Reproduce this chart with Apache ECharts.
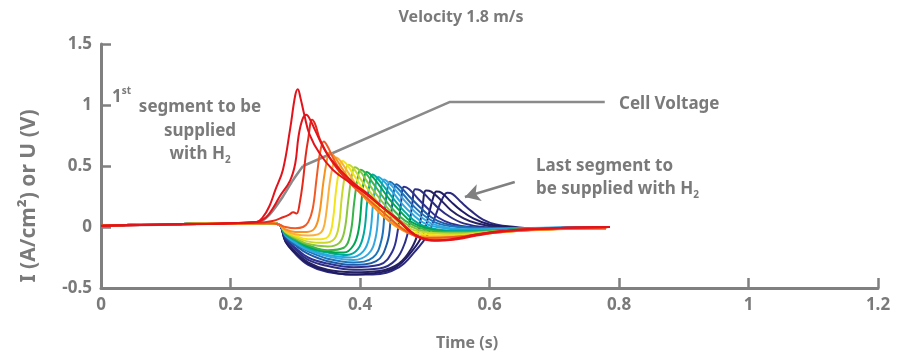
<!DOCTYPE html>
<html><head><meta charset="utf-8">
<script src="https://cdn.jsdelivr.net/npm/echarts@6/dist/echarts.min.js"></script>
<style>html,body{margin:0;padding:0;background:#fff}#c{width:902px;height:356px}</style>
</head><body><div id="c"></div>
<script>
const chartTitle = 'Velocity 1.8 m/s';
const xName = 'Time (s)';
const yName = 'I (A/cm²) or U (V)';

// Segment currents, first supplied (red) to last supplied (dark blue): [time, value]
const s01 = [[0,0.01],[0.15,0.025],[0.24,0.04],[0.25,0.08],[0.26,0.17],[0.269,0.3],[0.281,0.47],[0.292,0.8],[0.3,1.08],[0.304,1.13],[0.308,1.06],[0.314,0.92],[0.322,0.76],[0.338,0.6],[0.358,0.47],[0.385,0.36],[0.405,0.29],[0.43,0.18],[0.457,0.07],[0.475,-0.02],[0.49,-0.08],[0.51,-0.11],[0.54,-0.1],[0.575,-0.07],[0.62,-0.03],[0.7,-0.01],[0.786,0.0]];
const s02 = [[0,0.01],[0.15,0.025],[0.24,0.04],[0.255,0.08],[0.265,0.15],[0.276,0.25],[0.292,0.38],[0.3,0.52],[0.305,0.74],[0.311,0.88],[0.317,0.92],[0.323,0.88],[0.33,0.8],[0.349,0.6],[0.369,0.47],[0.39,0.36],[0.41,0.28],[0.435,0.16],[0.46,0.05],[0.478,-0.04],[0.495,-0.09],[0.515,-0.11],[0.545,-0.1],[0.58,-0.06],[0.63,-0.03],[0.7,-0.01],[0.786,0.0]];
const s03 = [[0,0.01],[0.15,0.025],[0.24,0.035],[0.265,0.05],[0.281,0.08],[0.29,0.1],[0.297,0.12],[0.302,0.11],[0.307,0.2],[0.312,0.38],[0.316,0.58],[0.32,0.72],[0.326,0.88],[0.331,0.84],[0.338,0.72],[0.354,0.56],[0.374,0.42],[0.395,0.33],[0.415,0.25],[0.44,0.14],[0.46,0.05],[0.48,-0.05],[0.5,-0.1],[0.52,-0.11],[0.55,-0.1],[0.58,-0.07],[0.63,-0.03],[0.7,-0.01],[0.786,0.0]];
const s04 = [[0,0.01],[0.26,0.03],[0.275,0.02],[0.285,0.0],[0.3,-0.01],[0.312,0.0],[0.32,0.04],[0.327,0.15],[0.333,0.4],[0.338,0.6],[0.344,0.70],[0.35,0.66],[0.36,0.55],[0.375,0.42],[0.39,0.33],[0.41,0.24],[0.44,0.1],[0.47,-0.03],[0.5,-0.09],[0.55,-0.08],[0.6,-0.05],[0.68,-0.02],[0.78,-0.01]];
const s05 = [[0,0.01],[0.26,0.03],[0.275,0.02],[0.285,-0.02],[0.3,-0.04],[0.318,-0.04],[0.33,-0.01],[0.337,0.1],[0.343,0.35],[0.348,0.52],[0.353,0.61],[0.36,0.58],[0.37,0.5],[0.385,0.38],[0.4,0.28],[0.42,0.17],[0.45,0.03],[0.48,-0.06],[0.51,-0.09],[0.55,-0.08],[0.6,-0.05],[0.68,-0.02],[0.78,-0.01]];
const s06 = [[0,0.01],[0.26,0.03],[0.275,0.02],[0.285,-0.03],[0.3,-0.06],[0.32,-0.07],[0.335,-0.06],[0.343,-0.02],[0.348,0.12],[0.353,0.35],[0.358,0.5],[0.363,0.57],[0.37,0.54],[0.38,0.46],[0.395,0.34],[0.41,0.24],[0.43,0.12],[0.46,-0.01],[0.49,-0.07],[0.52,-0.08],[0.57,-0.07],[0.62,-0.04],[0.7,-0.02],[0.78,-0.01]];
const s07 = [[0,0.01],[0.26,0.03],[0.275,0.02],[0.285,-0.03],[0.3,-0.07],[0.32,-0.1],[0.34,-0.1],[0.352,-0.07],[0.358,0.05],[0.363,0.3],[0.368,0.47],[0.373,0.54],[0.38,0.51],[0.39,0.43],[0.405,0.31],[0.42,0.21],[0.44,0.1],[0.47,-0.02],[0.5,-0.06],[0.54,-0.07],[0.6,-0.05],[0.68,-0.02],[0.78,-0.01]];
const s08 = [[0,0.01],[0.26,0.03],[0.275,0.02],[0.285,-0.04],[0.3,-0.08],[0.32,-0.12],[0.345,-0.13],[0.36,-0.1],[0.367,0.0],[0.372,0.25],[0.377,0.43],[0.382,0.51],[0.39,0.48],[0.4,0.4],[0.415,0.29],[0.43,0.19],[0.45,0.08],[0.48,-0.02],[0.51,-0.05],[0.55,-0.06],[0.6,-0.04],[0.68,-0.02],[0.78,-0.01]];
const s09 = [[0,0.01],[0.26,0.03],[0.275,0.02],[0.285,-0.04],[0.3,-0.09],[0.32,-0.14],[0.35,-0.16],[0.368,-0.13],[0.376,-0.03],[0.382,0.22],[0.387,0.41],[0.392,0.49],[0.4,0.46],[0.41,0.38],[0.425,0.27],[0.44,0.17],[0.46,0.06],[0.49,-0.02],[0.52,-0.05],[0.56,-0.05],[0.62,-0.03],[0.7,-0.01],[0.78,-0.01]];
const s10 = [[0,0.01],[0.26,0.03],[0.275,0.02],[0.285,-0.05],[0.3,-0.1],[0.32,-0.15],[0.35,-0.19],[0.375,-0.17],[0.385,-0.06],[0.391,0.2],[0.396,0.39],[0.401,0.47],[0.409,0.44],[0.42,0.36],[0.435,0.25],[0.45,0.15],[0.47,0.05],[0.5,-0.02],[0.53,-0.04],[0.57,-0.04],[0.63,-0.03],[0.7,-0.01],[0.78,-0.01]];
const s11 = [[0,0.01],[0.26,0.03],[0.275,0.02],[0.285,-0.05],[0.3,-0.1],[0.32,-0.16],[0.35,-0.2],[0.375,-0.21],[0.39,-0.15],[0.398,-0.02],[0.403,0.25],[0.406,0.38],[0.41,0.45],[0.418,0.42],[0.43,0.34],[0.445,0.23],[0.46,0.14],[0.48,0.04],[0.51,-0.02],[0.54,-0.04],[0.58,-0.04],[0.64,-0.02],[0.78,-0.01]];
const s12 = [[0,0.01],[0.26,0.03],[0.275,0.02],[0.285,-0.06],[0.3,-0.11],[0.32,-0.17],[0.35,-0.21],[0.38,-0.23],[0.397,-0.18],[0.406,-0.05],[0.411,0.2],[0.415,0.36],[0.419,0.43],[0.427,0.4],[0.44,0.31],[0.455,0.21],[0.47,0.12],[0.49,0.03],[0.52,-0.02],[0.55,-0.03],[0.6,-0.03],[0.66,-0.01],[0.78,-0.01]];
const s13 = [[0,0.01],[0.26,0.03],[0.275,0.02],[0.285,-0.06],[0.3,-0.12],[0.32,-0.18],[0.35,-0.23],[0.385,-0.25],[0.405,-0.2],[0.415,-0.07],[0.42,0.18],[0.424,0.34],[0.428,0.41],[0.436,0.38],[0.45,0.29],[0.465,0.19],[0.48,0.11],[0.5,0.03],[0.53,-0.01],[0.56,-0.02],[0.62,-0.02],[0.7,-0.01],[0.78,0.0]];
const s14 = [[0,0.01],[0.26,0.03],[0.275,0.02],[0.285,-0.07],[0.3,-0.13],[0.32,-0.19],[0.35,-0.24],[0.39,-0.27],[0.413,-0.22],[0.424,-0.09],[0.429,0.15],[0.433,0.32],[0.437,0.39],[0.445,0.36],[0.46,0.27],[0.475,0.18],[0.49,0.1],[0.51,0.03],[0.54,-0.01],[0.58,-0.02],[0.64,-0.01],[0.78,0.0]];
const s15 = [[0,0.01],[0.26,0.03],[0.275,0.02],[0.285,-0.07],[0.3,-0.14],[0.32,-0.2],[0.35,-0.26],[0.39,-0.29],[0.42,-0.25],[0.433,-0.11],[0.438,0.12],[0.442,0.3],[0.446,0.37],[0.454,0.34],[0.468,0.26],[0.483,0.17],[0.5,0.09],[0.52,0.03],[0.55,0.0],[0.6,-0.01],[0.78,0.0]];
const s16 = [[0,0.01],[0.26,0.03],[0.275,0.02],[0.285,-0.08],[0.3,-0.15],[0.32,-0.22],[0.35,-0.28],[0.39,-0.31],[0.425,-0.28],[0.442,-0.13],[0.448,0.1],[0.452,0.28],[0.456,0.35],[0.464,0.32],[0.478,0.24],[0.493,0.16],[0.51,0.08],[0.53,0.03],[0.56,0.0],[0.62,-0.01],[0.78,0.0]];
const s17 = [[0,0.01],[0.26,0.03],[0.275,0.02],[0.285,-0.09],[0.3,-0.17],[0.32,-0.25],[0.35,-0.3],[0.39,-0.33],[0.43,-0.31],[0.45,-0.2],[0.458,-0.04],[0.463,0.18],[0.468,0.33],[0.476,0.31],[0.49,0.23],[0.505,0.15],[0.52,0.08],[0.54,0.03],[0.57,0.0],[0.63,-0.01],[0.78,0.0]];
const s18 = [[0,0.01],[0.26,0.03],[0.275,0.02],[0.285,-0.1],[0.3,-0.18],[0.32,-0.27],[0.35,-0.32],[0.39,-0.35],[0.43,-0.34],[0.455,-0.27],[0.47,-0.12],[0.477,0.05],[0.481,0.2],[0.485,0.31],[0.493,0.3],[0.507,0.23],[0.522,0.15],[0.54,0.08],[0.56,0.03],[0.59,0.0],[0.65,-0.02],[0.72,-0.01],[0.78,-0.01]];
const s19 = [[0,0.01],[0.26,0.03],[0.275,0.02],[0.285,-0.11],[0.3,-0.2],[0.32,-0.29],[0.35,-0.35],[0.39,-0.37],[0.43,-0.36],[0.46,-0.3],[0.48,-0.17],[0.49,-0.04],[0.496,0.14],[0.502,0.3],[0.51,0.29],[0.525,0.22],[0.54,0.14],[0.56,0.07],[0.58,0.03],[0.61,0.0],[0.67,-0.02],[0.72,-0.01],[0.78,-0.01]];
const s20 = [[0,0.01],[0.26,0.03],[0.275,0.02],[0.285,-0.12],[0.3,-0.21],[0.32,-0.3],[0.35,-0.36],[0.385,-0.39],[0.42,-0.38],[0.455,-0.33],[0.48,-0.2],[0.498,-0.05],[0.507,0.12],[0.513,0.24],[0.518,0.29],[0.526,0.28],[0.54,0.21],[0.555,0.14],[0.575,0.07],[0.6,0.02],[0.63,0.0],[0.68,-0.02],[0.72,-0.01],[0.77,-0.01]];
const s21 = [[0,0.01],[0.26,0.03],[0.275,0.02],[0.285,-0.12],[0.3,-0.22],[0.32,-0.31],[0.35,-0.37],[0.385,-0.39],[0.42,-0.39],[0.46,-0.33],[0.485,-0.2],[0.505,-0.06],[0.517,0.1],[0.527,0.23],[0.535,0.28],[0.543,0.27],[0.557,0.2],[0.572,0.13],[0.59,0.06],[0.61,0.02],[0.64,0.0],[0.69,-0.02],[0.73,-0.01],[0.77,-0.01]];

const segments = [s01,s02,s03,s04,s05,s06,s07,s08,s09,s10,s11,s12,s13,s14,s15,s16,s17,s18,s19,s20,s21];
const segColors = ['#e3131b','#e3131b','#e52a1c','#f15a24','#f7931e','#fbb03b','#f4e31a','#c9d82b','#8cc63f','#39b54a','#00a651','#00a99d','#27aae1','#3aa6de','#1c75bc','#1f5aa6','#2e3192','#2b2e83','#262262','#1e1a66','#2d2b7f'];

// Cell voltage trace and its annotation leader
const cellVoltage = [[0,0.01],[0.2,0.03],[0.243,0.04],[0.26,0.1],[0.281,0.25],[0.296,0.38],[0.312,0.5]];
const cellLeader = [[0.312,0.5],[0.539,1.025],[0.778,1.025]];
const lastArrow = [[0.639,0.369],[0.562,0.246]];

const FONT = "'Noto Sans', sans-serif";
const GREY = '#7a7a7a';
const AX = '#808080';

const chart = echarts.init(document.getElementById('c'), null, {renderer:'canvas'});

const series = [];
series.push({type:'line', data: cellVoltage, showSymbol:false, smooth:0.3, lineStyle:{color:'#8a8a8a', width:2.5}, z:1});
series.push({type:'line', data: cellLeader, showSymbol:false, lineStyle:{color:'#8a8a8a', width:2.5}, z:1,
  markLine:{silent:true, symbol:['none','arrow'], symbolSize:[13,15], label:{show:false},
    lineStyle:{color:'#808080', width:2.5, type:'solid'},
    data:[[{coord:lastArrow[0]},{coord:lastArrow[1]}]]}});
for (let i = segments.length - 1; i >= 0; i--) {
  series.push({type:'line', data: segments[i], showSymbol:false, smooth:0.4,
    lineStyle:{color: segColors[i], width:2}, z: 2});
}

const sub = {a:{fontSize:17, fontWeight:'bold', fill:GREY, fontFamily:FONT, lineHeight:22}, b:{fontSize:10, fontWeight:'bold', fill:GREY, fontFamily:FONT, lineHeight:10, verticalAlign:'bottom'}};
const sup = {a:{fontSize:17, fontWeight:'bold', fill:GREY, fontFamily:FONT, lineHeight:22}, b:{fontSize:10, fontWeight:'bold', fill:GREY, fontFamily:FONT, lineHeight:10, verticalAlign:'top'}};
const txt = (text, x, y, extra) => ({type:'text', x, y, style: Object.assign({text, fill: GREY, fontFamily: FONT, fontWeight:'bold', fontSize:17}, extra||{})});

chart.setOption({
  animation:false,
  backgroundColor:'#ffffff',
  grid:{left:101, right:24, top:44, bottom:68},
  xAxis:{type:'value', min:0, max:1.2, interval:0.2,
    axisLine:{show:true, onZero:false, lineStyle:{color:AX, width:3}},
    axisTick:{show:true, inside:true, length:10, lineStyle:{color:AX, width:2.5}},
    splitLine:{show:false},
    axisLabel:{color:GREY, fontSize:17, fontWeight:'bold', fontFamily:FONT, margin:9}},
  yAxis:{type:'value', min:-0.5, max:1.5, interval:0.5,
    axisLine:{show:true, onZero:false, lineStyle:{color:AX, width:3}},
    axisTick:{show:true, inside:true, length:10, lineStyle:{color:AX, width:2.5}},
    splitLine:{show:false},
    axisLabel:{color:GREY, fontSize:17, fontWeight:'bold', fontFamily:FONT, margin:9}},
  series,
  graphic:[
    txt(chartTitle, 461, 17, {align:'center', verticalAlign:'middle', fontSize:16}),
    txt(xName, 467, 343, {align:'center', verticalAlign:'middle', fontSize:16}),
    {type:'text', x:29, y:196, rotation:Math.PI/2, style:{text:yName, fill:GREY, fontFamily:FONT, fontWeight:'bold', fontSize:21, align:'center', verticalAlign:'middle'}},
    txt('{a|1}{b|st}', 112, 97, {verticalAlign:'middle', rich:sup}),
    txt('segment to be', 200, 107, {align:'center', verticalAlign:'middle'}),
    txt('supplied', 200, 131, {align:'center', verticalAlign:'middle'}),
    txt('{a|with H}{b|2}', 200, 154, {align:'center', verticalAlign:'middle', rich:sub}),
    txt('Cell Voltage', 619, 104, {verticalAlign:'middle'}),
    txt('Last segment to', 536, 166, {verticalAlign:'middle'}),
    txt('{a|be supplied with H}{b|2}', 536, 189, {verticalAlign:'middle', rich:sub})
  ]
});
</script></body></html>
